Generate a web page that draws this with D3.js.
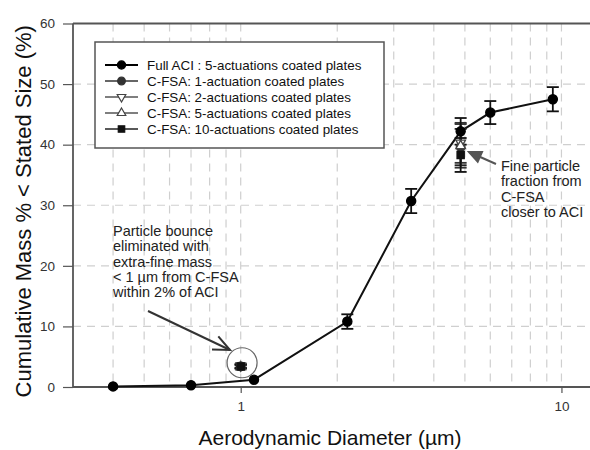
<!DOCTYPE html>
<html>
<head>
<meta charset="utf-8">
<script src="https://cdn.jsdelivr.net/npm/d3@7"></script>
<style>
  body { margin: 0; background: #fff; }
  svg { display: block; font-family: "Liberation Sans", Arial, sans-serif; }
</style>
</head>
<body>
<div id="chart"></div>
<script>
// Full ACI, 5 actuations
const aciDiam = [0.4, 0.7, 1.1, 2.15, 3.4, 4.85, 6.0, 9.4];
const aciMass = [0.1, 0.3, 1.2, 10.8, 30.7, 42.2, 45.3, 47.5];
const aciErr = [0, 0, 0, 1.2, 2.0, 2.2, 1.9, 2.0];

// C-FSA runs (two stages each)
const fsaDiam = [1.0, 4.85];
const fsa1Mass = [3.4, 39.6];
const fsa1Err = [0.3, 3.0];
const fsa2Mass = [3.5, 40.3];
const fsa2Err = [0.3, 3.3];
const fsa5Mass = [3.3, 39.8];
const fsa5Err = [0.3, 3.6];
const fsa10Mass = [3.4, 38.3];
const fsa10Err = [0.3, 2.8];

const legendLabels = [
  'Full ACI : 5-actuations coated plates',
  'C-FSA: 1-actuation coated plates',
  'C-FSA: 2-actuations coated plates',
  'C-FSA: 5-actuations coated plates',
  'C-FSA: 10-actuations coated plates'
];
const yTicks = [0, 10, 20, 30, 40, 50, 60];
const xTicks = [1, 10];
const xGrid = [0.4, 0.5, 0.6, 0.7, 0.8, 0.9, 1, 2, 3, 4, 5, 6, 7, 8, 9, 10];
const yGrid = [10, 20, 30, 40, 50];

const width = 590, height = 450;
const pLeft = 73, pRight = 588, pTop = 23.5, pBottom = 387;

const x = d3.scaleLog().domain([0.3, 12.1]).range([pLeft, pRight]);
const y = d3.scaleLinear().domain([0, 60]).range([pBottom, pTop]);

const svg = d3.select('#chart').append('svg')
  .attr('width', width)
  .attr('height', height);

// grid
const grid = svg.append('g')
  .attr('stroke', '#cfcfcf')
  .attr('stroke-width', 1.2)
  .attr('stroke-dasharray', '8,6');
grid.selectAll('line.vx').data(xGrid).join('line')
  .attr('x1', d => x(d)).attr('x2', d => x(d))
  .attr('y1', pTop).attr('y2', pBottom);
grid.selectAll('line.hy').data(yGrid).join('line')
  .attr('x1', pLeft).attr('x2', width)
  .attr('y1', d => y(d)).attr('y2', d => y(d));

// axes
const axisColor = '#555';
svg.append('line').attr('x1', pLeft).attr('x2', width).attr('y1', pBottom).attr('y2', pBottom)
  .attr('stroke', axisColor).attr('stroke-width', 1.8);
svg.append('line').attr('x1', pLeft).attr('x2', width).attr('y1', pTop).attr('y2', pTop)
  .attr('stroke', axisColor).attr('stroke-width', 1.8);
svg.append('line').attr('x1', pLeft).attr('x2', pLeft).attr('y1', pTop).attr('y2', pBottom)
  .attr('stroke', axisColor).attr('stroke-width', 1.8);

const yAxis = svg.append('g')
  .attr('transform', `translate(${pLeft},0)`)
  .call(d3.axisLeft(y).tickValues(yTicks).tickSize(10).tickPadding(8));
yAxis.select('.domain').remove();
yAxis.selectAll('line').attr('stroke', axisColor).attr('stroke-width', 1.2);
yAxis.selectAll('text').attr('font-size', 13.5).attr('fill', '#333')
  .attr('font-family', '"Liberation Sans", Arial, sans-serif');

const xAxis = svg.append('g')
  .attr('transform', `translate(0,${pBottom})`)
  .call(d3.axisBottom(x).tickValues(xTicks).tickFormat(d3.format('d')).tickSize(6).tickPadding(8));
xAxis.select('.domain').remove();
xAxis.selectAll('line').attr('stroke', axisColor).attr('stroke-width', 1.2);
xAxis.selectAll('text').attr('font-size', 13.5).attr('fill', '#333')
  .attr('font-family', '"Liberation Sans", Arial, sans-serif');

// axis titles
svg.append('text')
  .attr('transform', `translate(31,${(pTop + pBottom) / 2 + 6}) rotate(-90)`)
  .attr('text-anchor', 'middle')
  .attr('font-size', 22)
  .attr('fill', '#111')
  .text('Cumulative Mass % < Stated Size (%)');
svg.append('text')
  .attr('x', 330).attr('y', 445)
  .attr('text-anchor', 'middle')
  .attr('font-size', 21)
  .attr('fill', '#111')
  .text('Aerodynamic Diameter (\u00b5m)');

// error bars helper
function errorBars(diam, mass, err, color) {
  const g = svg.append('g').attr('stroke', color).attr('stroke-width', 1.8);
  diam.forEach((d, i) => {
    if (!err[i]) return;
    const cx = x(d), y1 = y(mass[i] + err[i]), y2 = y(mass[i] - err[i]);
    g.append('line').attr('x1', cx).attr('x2', cx).attr('y1', y1).attr('y2', y2);
    g.append('line').attr('x1', cx - 6).attr('x2', cx + 6).attr('y1', y1).attr('y2', y1);
    g.append('line').attr('x1', cx - 6).attr('x2', cx + 6).attr('y1', y2).attr('y2', y2);
  });
}

const symbols = [
  { type: d3.symbolCircle, size: 66, fill: '#000', stroke: '#000' },
  { type: d3.symbolCircle, size: 58, fill: '#333', stroke: '#333' },
  { type: d3.symbolTriangle, size: 40, fill: '#fff', stroke: '#444', rot: 180 },
  { type: d3.symbolTriangle, size: 40, fill: '#fff', stroke: '#444', rot: 0 },
  { type: d3.symbolSquare, size: 52, fill: '#111', stroke: '#111' }
];

function drawMarkers(diam, mass, sym) {
  svg.append('g').selectAll('path').data(diam).join('path')
    .attr('d', d3.symbol().type(sym.type).size(sym.size))
    .attr('transform', (d, i) => `translate(${x(d)},${y(mass[i])}) rotate(${sym.rot || 0})`)
    .attr('fill', sym.fill)
    .attr('stroke', sym.stroke)
    .attr('stroke-width', 1.3);
}

// ACI line
const line = d3.line().x(d => x(d[0])).y(d => y(d[1]));
svg.append('path')
  .datum(aciDiam.map((d, i) => [d, aciMass[i]]))
  .attr('d', line)
  .attr('fill', 'none')
  .attr('stroke', '#111')
  .attr('stroke-width', 2);

errorBars(fsaDiam, fsa1Mass, fsa1Err, '#222');
errorBars(fsaDiam, fsa2Mass, fsa2Err, '#333');
errorBars(fsaDiam, fsa5Mass, fsa5Err, '#333');
errorBars(fsaDiam, fsa10Mass, fsa10Err, '#111');
errorBars(aciDiam, aciMass, aciErr, '#111');

drawMarkers(fsaDiam, fsa1Mass, symbols[1]);
drawMarkers(fsaDiam, fsa2Mass, symbols[2]);
drawMarkers(fsaDiam, fsa5Mass, symbols[3]);
drawMarkers(fsaDiam, fsa10Mass, symbols[4]);
drawMarkers(aciDiam, aciMass, symbols[0]);

// legend
const lg = svg.append('g').attr('transform', 'translate(95,42)');
lg.append('rect').attr('width', 289).attr('height', 106)
  .attr('fill', '#fff').attr('stroke', '#555').attr('stroke-width', 1.5);
const legendColors = ['#000', '#333', '#555', '#555', '#222'];
legendLabels.forEach((lab, i) => {
  const ry = 23 + i * 16;
  lg.append('line').attr('x1', 10).attr('x2', 43).attr('y1', ry).attr('y2', ry)
    .attr('stroke', legendColors[i]).attr('stroke-width', i === 0 ? 2 : 1.6);
  const s = symbols[i];
  lg.append('path')
    .attr('d', d3.symbol().type(s.type).size(s.size * 0.8))
    .attr('transform', `translate(26.5,${ry}) rotate(${s.rot || 0})`)
    .attr('fill', s.fill).attr('stroke', s.stroke).attr('stroke-width', 1.2);
  lg.append('text').attr('x', 52).attr('y', ry + 4.8)
    .attr('font-size', 13.4).attr('fill', '#111').text(lab);
});

// annotation: particle bounce
const noteA = ['Particle bounce', 'eliminated with', 'extra-fine mass', '< 1 \u00b5m from C-FSA', 'within 2% of ACI'];
svg.append('g').selectAll('text').data(noteA).join('text')
  .attr('x', 113).attr('y', (d, i) => 236 + i * 15.3)
  .attr('font-size', 14.5).attr('fill', '#222')
  .text(d => d);

function arrow(x1, y1, x2, y2, color, open, len) {
  const ang = Math.atan2(y2 - y1, x2 - x1);
  const spread = 0.42;
  const p1 = [x2 - len * Math.cos(ang - spread), y2 - len * Math.sin(ang - spread)];
  const p2 = [x2 - len * Math.cos(ang + spread), y2 - len * Math.sin(ang + spread)];
  const g = svg.append('g').attr('stroke', color).attr('stroke-width', 2).attr('fill', 'none');
  g.append('line').attr('x1', x1).attr('y1', y1).attr('x2', x2).attr('y2', y2);
  if (open) {
    g.append('polyline').attr('points', [p1, [x2, y2], p2].map(p => p.join(',')).join(' '));
  } else {
    g.append('polygon').attr('points', [p1, [x2, y2], p2].map(p => p.join(',')).join(' '))
      .attr('fill', color);
  }
}

arrow(148, 311, 230, 350, '#333', true, 18);
svg.append('circle')
  .attr('cx', x(1.01)).attr('cy', y(4.0)).attr('r', 15)
  .attr('fill', 'none').attr('stroke', '#666').attr('stroke-width', 1.2);

// annotation: fine particle fraction
const noteB = ['Fine particle', 'fraction from', 'C-FSA', 'closer to ACI'];
svg.append('g').selectAll('text').data(noteB).join('text')
  .attr('x', 501).attr('y', (d, i) => 170.5 + i * 15.5)
  .attr('font-size', 14.5).attr('fill', '#222')
  .text(d => d);
arrow(496, 164, 469, 152, '#555', false, 13);
</script>
</body>
</html>
